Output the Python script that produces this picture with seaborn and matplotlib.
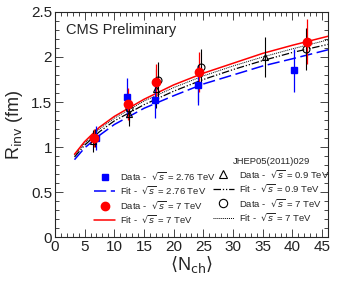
import numpy as np
import matplotlib
matplotlib.use("Agg")
import matplotlib.pyplot as plt
import seaborn as sns
from matplotlib.lines import Line2D
from matplotlib.ticker import MultipleLocator

sns.set_style("ticks")
plt.rcParams["font.family"] = ["Liberation Sans", "DejaVu Sans"]

# Data points (CMS 2.76 TeV, CMS 7 TeV, JHEP 0.9 TeV, JHEP 7 TeV)
n_276 = [7.0, 12.1, 16.9, 24.1, 40.2]
r_276 = [1.10, 1.56, 1.52, 1.69, 1.85]
e_276 = [0.13, 0.21, 0.20, 0.22, 0.24]

n_7 = [6.6, 12.3, 17.1, 24.3, 42.4]
r_7 = [1.10, 1.48, 1.72, 1.83, 2.17]
e_7 = [0.10, 0.18, 0.20, 0.22, 0.25]

n_09 = [6.5, 12.4, 17.1, 24.1, 35.4]
r_09 = [1.07, 1.37, 1.65, 1.70, 2.00]
e_09 = [0.12, 0.14, 0.22, 0.20, 0.22]

n_7j = [6.7, 12.5, 17.4, 24.6, 42.3]
r_7j = [1.10, 1.43, 1.74, 1.89, 2.09]
e_7j = [0.10, 0.15, 0.20, 0.20, 0.23]

fit_n = [3.3, 5, 7.5, 10, 15, 20, 25, 30, 35, 40, 46]
fit_276 = [0.86, 0.99, 1.13, 1.25, 1.43, 1.57, 1.70, 1.80, 1.90, 1.98, 2.08]
fit_7 = [0.92, 1.06, 1.22, 1.34, 1.53, 1.69, 1.82, 1.93, 2.04, 2.13, 2.23]
fit_09 = [0.89, 1.02, 1.17, 1.29, 1.47, 1.62, 1.75, 1.86, 1.96, 2.05, 2.14]
fit_7j = [0.91, 1.04, 1.20, 1.32, 1.51, 1.66, 1.79, 1.90, 2.00, 2.09, 2.19]

fig, ax = plt.subplots(figsize=(3.41, 2.84), dpi=100)
fig.subplots_adjust(left=0.161, right=0.962, top=0.958, bottom=0.165)

sns.lineplot(x=fit_n, y=fit_09, color="black", lw=0.9, ax=ax,
             linestyle=(0, (6, 1.5, 1, 1.5, 1, 1.5)))
sns.lineplot(x=fit_n, y=fit_7j, color="black", lw=0.7, linestyle=(0, (1, 1)), ax=ax)
sns.lineplot(x=fit_n, y=fit_276, color="blue", lw=1.1, linestyle=(0, (8, 3)), ax=ax)
sns.lineplot(x=fit_n, y=fit_7, color="red", lw=1.1, ax=ax)

ax.errorbar(n_09, r_09, yerr=e_09, fmt="^", mfc="none", mec="black",
            ecolor="black", ms=5, mew=0.8, elinewidth=0.8, capsize=0)
ax.errorbar(n_7j, r_7j, yerr=e_7j, fmt="o", mfc="none", mec="black",
            ecolor="black", ms=5, mew=0.8, elinewidth=0.8, capsize=0)
ax.errorbar(n_276, r_276, yerr=e_276, fmt="s", color="blue", ms=5,
            elinewidth=0.9, capsize=0)
ax.errorbar(n_7, r_7, yerr=e_7, fmt="o", color="red", ms=6,
            elinewidth=0.9, capsize=0)

ax.set_xlim(0, 46)
ax.set_ylim(0, 2.5)
ax.xaxis.set_major_locator(MultipleLocator(5))
ax.xaxis.set_minor_locator(MultipleLocator(1))
ax.yaxis.set_major_locator(MultipleLocator(0.5))
ax.yaxis.set_minor_locator(MultipleLocator(0.1))
ax.set_yticks([0, 0.5, 1, 1.5, 2, 2.5])
ax.set_yticklabels(["0", "0.5", "1", "1.5", "2", "2.5"])
ax.tick_params(which="both", direction="in", top=True, right=True,
               labelsize=11, pad=2, width=0.7, color="#444444",
               labelcolor="#222222")
ax.tick_params(which="major", length=6)
ax.tick_params(which="minor", length=3)
for s in ax.spines.values():
    s.set_linewidth(0.8)

ax.set_ylabel(r"R$_{\rm inv}$ (fm)", fontsize=13, labelpad=4)
ax.set_xlabel(r"$\langle$N$_{\rm ch}\rangle$", fontsize=13, labelpad=0)
ax.text(0.04, 0.90, "CMS Preliminary", transform=ax.transAxes, fontsize=10.5)

leg1_h = [
    Line2D([], [], marker="s", color="blue", ls="none", ms=5),
    Line2D([], [], color="blue", lw=1.1, ls=(0, (8, 3))),
    Line2D([], [], marker="o", color="red", ls="none", ms=6),
    Line2D([], [], color="red", lw=1.1),
]
leg1_l = [r"Data -  $\sqrt{s}$ = 2.76 TeV", r"Fit -  $\sqrt{s}$ = 2.76 TeV",
          r"Data -  $\sqrt{s}$ = 7 TeV", r"Fit -  $\sqrt{s}$ = 7 TeV"]
leg1 = ax.legend(leg1_h, leg1_l, loc="lower left", bbox_to_anchor=(0.13, 0.035),
                 frameon=False, fontsize=6.8, handlelength=2.2, labelspacing=0.3,
                 handletextpad=0.5, borderaxespad=0)
ax.add_artist(leg1)

leg2_h = [
    Line2D([], [], marker="^", mfc="none", mec="black", ls="none", ms=6, mew=0.8),
    Line2D([], [], color="black", lw=0.9, ls=(0, (6, 1.5, 1, 1.5, 1, 1.5))),
    Line2D([], [], marker="o", mfc="none", mec="black", ls="none", ms=6, mew=0.8),
    Line2D([], [], color="black", lw=0.7, ls=(0, (1, 1))),
]
leg2_l = [r"Data -  $\sqrt{s}$ = 0.9 TeV", r"Fit -  $\sqrt{s}$ = 0.9 TeV",
          r"Data -  $\sqrt{s}$ = 7 TeV", r"Fit -  $\sqrt{s}$ = 7 TeV"]
ax.legend(leg2_h, leg2_l, loc="lower left", bbox_to_anchor=(0.565, 0.045),
          frameon=False, fontsize=6.8, handlelength=2.2, labelspacing=0.3,
          handletextpad=0.5, borderaxespad=0)
ax.text(0.652, 0.335, "JHEP05(2011)029", transform=ax.transAxes, fontsize=6.8,
        va="center")

fig.savefig("out.png", dpi=100)
